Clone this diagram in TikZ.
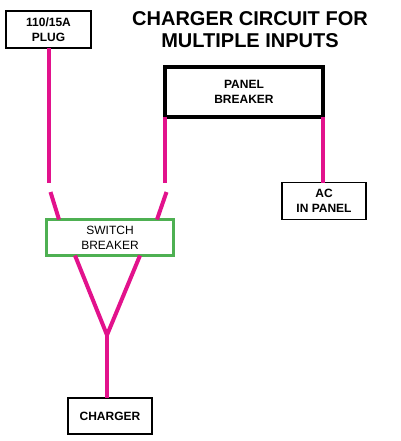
\documentclass[tikz,border=0pt]{standalone}
\usepackage{fontspec}
\setmainfont{Liberation Sans}
\usepackage{xcolor}
\definecolor{wirepink}{RGB}{226,18,140}
\definecolor{brkgreen}{RGB}{78,176,82}

\begin{document}
\begin{tikzpicture}[x=1pt,y=-1pt]
\tikzset{
  box/.style={draw, line width=1.8pt, minimum width=85pt, minimum height=37pt, inner sep=0pt,
    outer sep=0pt, align=center, font=\fontsize{12}{15}\selectfont\bfseries},
  wire/.style={wirepink, line width=4pt}
}
\useasboundingbox (0,0) rectangle (400,441);

% Title
\node[align=center, font=\fontsize{20}{22}\selectfont\bfseries] (title) at (250,30) {CHARGER CIRCUIT FOR\\MULTIPLE INPUTS};

% Boxes
\node[box] (plug) at (48.5,29.5) {110/15A\\PLUG};
\node[box, line width=4pt, minimum width=158pt, minimum height=50pt] (panel) at (244,92) {PANEL\\BREAKER};
\node[box, minimum width=84pt] (ac) at (324,201) {AC\\IN PANEL};
\node[box, draw=brkgreen, line width=3pt, minimum width=127pt, minimum height=36pt,
  font=\fontsize{12}{15}\selectfont] (switch) at (110,237.5) {SWITCH\\BREAKER};
\node[box, minimum width=84pt, minimum height=36pt] (charger) at (110,416) {CHARGER};

% Wire ends
\coordinate (plugend) at (48.5,183);
\coordinate (lefttop) at (50.5,192);
\coordinate (leftin) at (59,219.5);
\coordinate (panelend) at (165,183);
\coordinate (righttop) at (166.5,192);
\coordinate (rightin) at (157,219.5);
\coordinate (swout1) at (75,255.5);
\coordinate (swout2) at (140,255.5);
\coordinate (vjoin) at (107,335);

% Inputs
\draw[wire] (plug.south) -- (plugend);
\draw[wire] (lefttop) -- (leftin);
\draw[wire] (panel.south west) -- (panelend);
\draw[wire] (righttop) -- (rightin);
\draw[wire] (panel.south east) -- (panel.south east |- ac.north);

% Output
\draw[wire, line join=round] (swout1) -- (vjoin) -- (swout2);
\draw[wire] (vjoin) -- (vjoin |- charger.north);
\end{tikzpicture}
\end{document}
